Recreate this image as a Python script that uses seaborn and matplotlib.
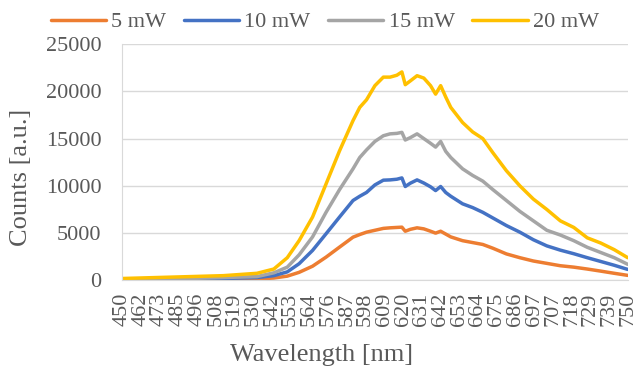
import matplotlib
matplotlib.use("Agg")
import matplotlib.pyplot as plt
import seaborn as sns
import pandas as pd

# wavelength grid [nm] and counts [x1000]
wavelength = [450, 470, 490, 510, 530, 540, 548, 555, 563, 571, 579, 587, 591, 595,
              600, 605, 609, 613, 616, 618, 621, 625, 629, 633, 636, 639, 642, 645,
              652, 658, 664, 670, 678, 686, 694, 702, 710, 718, 726, 734, 742, 750]

p5 = [0.0, 0.05, 0.08, 0.1, 0.15, 0.25, 0.45, 0.85, 1.5, 2.46, 3.52, 4.57, 4.85, 5.1,
      5.3, 5.5, 5.56, 5.6, 5.63, 5.2, 5.4, 5.56, 5.45, 5.2, 5.0, 5.2, 4.9, 4.6,
      4.2, 4.0, 3.8, 3.4, 2.8, 2.4, 2.05, 1.8, 1.55, 1.4, 1.2, 0.98, 0.75, 0.53]

p10 = [0.05, 0.1, 0.15, 0.2, 0.3, 0.5, 0.9, 1.76, 3.17, 4.93, 6.7, 8.45, 8.9, 9.3,
       10.1, 10.6, 10.63, 10.7, 10.84, 9.93, 10.28, 10.63, 10.3, 9.9, 9.5, 9.93, 9.3, 8.9,
       8.1, 7.7, 7.2, 6.6, 5.8, 5.1, 4.3, 3.65, 3.2, 2.82, 2.4, 2.0, 1.6, 1.16]

p15 = [0.1, 0.15, 0.2, 0.3, 0.4, 0.8, 1.4, 2.7, 4.6, 7.2, 9.6, 11.8, 13.0, 13.8,
       14.7, 15.3, 15.5, 15.55, 15.66, 14.85, 15.1, 15.5, 15.0, 14.5, 14.1, 14.7, 13.65, 13.0,
       11.8, 11.1, 10.5, 9.6, 8.45, 7.3, 6.3, 5.3, 4.8, 4.2, 3.5, 2.95, 2.4, 1.7]

p20 = [0.2, 0.3, 0.4, 0.5, 0.75, 1.2, 2.4, 4.2, 6.7, 10.2, 13.7, 16.9, 18.3, 19.1,
       20.6, 21.5, 21.5, 21.7, 22.05, 20.7, 21.1, 21.65, 21.4, 20.6, 19.7, 20.6, 19.4, 18.3,
       16.7, 15.7, 15.0, 13.5, 11.6, 10.0, 8.6, 7.5, 6.3, 5.6, 4.5, 3.95, 3.25, 2.4]

series_names = ["5 mW", "10 mW", "15 mW", "20 mW"]
colors = ["#ED7D31", "#4472C4", "#A5A5A5", "#FFC000"]

# category-style labels, evenly spaced along the axis like the original
tick_labels = ["450", "462", "473", "485", "496", "508", "519", "530", "542", "553",
               "564", "576", "587", "598", "609", "620", "631", "642", "653", "664",
               "675", "686", "697", "707", "718", "729", "739", "750"]

frames = []
for name, vals in zip(series_names, [p5, p10, p15, p20]):
    frames.append(pd.DataFrame({"Wavelength": wavelength,
                                "Counts": [v * 1000 for v in vals],
                                "Power": name}))
df = pd.concat(frames, ignore_index=True)

sns.set_style("white")
plt.rcParams["font.family"] = ["Liberation Serif", "DejaVu Serif"]
text_col = "#595959"

fig = plt.figure(figsize=(6.36, 3.67), dpi=100)
ax = fig.add_axes([0.192, 0.236, 0.795, 0.644])

sns.lineplot(data=df, x="Wavelength", y="Counts", hue="Power",
             hue_order=series_names, palette=colors, linewidth=2.5,
             ax=ax, legend=False)

ax.set_xlim(450, 750)
ax.set_ylim(0, 25000)
ax.set_yticks(range(0, 25001, 5000))
n = len(tick_labels)
ax.set_xticks([450 + i * 300 / (n - 1) for i in range(n)])
ax.set_xticklabels(tick_labels, rotation=90)
ax.tick_params(axis="both", length=0, labelsize=16, colors=text_col)
ax.tick_params(axis="y", pad=15)
ax.tick_params(axis="x", pad=9)
ax.yaxis.grid(True, color="#D9D9D9", linewidth=1.0)
ax.xaxis.grid(False)
for s in ["top", "right"]:
    ax.spines[s].set_visible(False)
ax.spines["left"].set_color("#D9D9D9")
ax.spines["bottom"].set_color("#D9D9D9")
ax.set_axisbelow(True)

ax.set_xlabel("Wavelength [nm]", fontsize=19, color=text_col)
ax.set_ylabel("Counts [a.u.]", fontsize=19, color=text_col)
ax.xaxis.set_label_coords((322 - 122) / 506, (280 - 355) / 236, transform=ax.transAxes)
ax.xaxis.label.set_va("center")
ax.yaxis.set_label_coords((21 - 122) / 506, (280 - 177) / 236, transform=ax.transAxes)
ax.yaxis.label.set_va("center")

handles = [plt.Line2D([], [], color=c, linewidth=2.5) for c in colors]
leg = fig.legend(handles, series_names, loc="center", ncol=4,
                 bbox_to_anchor=(0.511, 0.94), frameon=False, fontsize=16,
                 handlelength=2.48, handletextpad=0.23, columnspacing=0.8,
                 borderpad=0, borderaxespad=0)
for t in leg.get_texts():
    t.set_color(text_col)

fig.savefig("out.png", dpi=100)
